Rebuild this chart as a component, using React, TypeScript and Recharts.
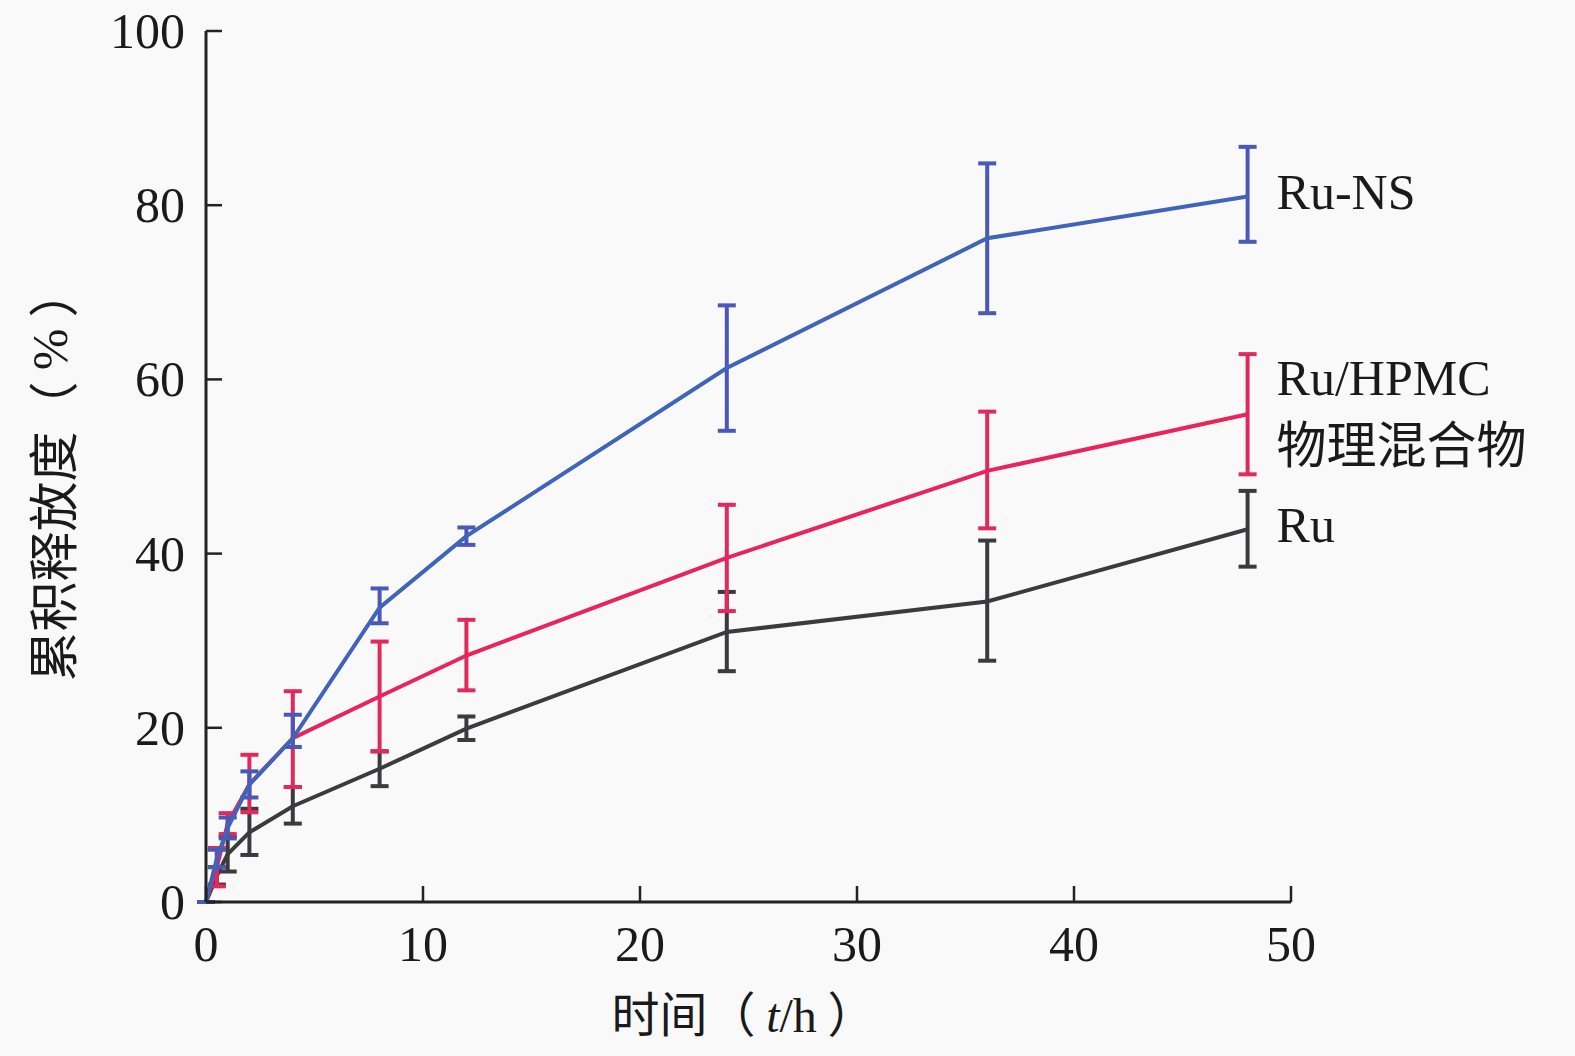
import React from "react";
import { LineChart, Line, XAxis, YAxis, ErrorBar } from "recharts";

const times = [0, 0.5, 1, 2, 4, 8, 12, 24, 36, 48];

const ruNS = [0, 5, 8.5, 13.5, 18.8, 33.8, 42, 61.3, 76.2, 81];
const ruNSErr = [[0, 0], [1, 1], [1.2, 1.2], [1.5, 1.5], [1, 2.7], [1.8, 2.2], [1, 1], [7.2, 7.2], [8.6, 8.6], [5.2, 5.7]];

const ruHPMC = [0, 4, 9, 13.5, 18.8, 23.6, 28.3, 39.5, 49.5, 56];
const ruHPMCErr = [[0, 0], [2.2, 2.2], [1.2, 1.2], [3.2, 3.4], [5.6, 5.4], [6.3, 6.3], [4, 4.1], [6.1, 6.1], [6.6, 6.8], [6.9, 6.9]];

const ru = [0, 3, 5.5, 8, 11, 15.3, 19.9, 31, 34.5, 42.8];
const ruErr = [[0, 0], [1, 1], [2, 2], [2.6, 2.7], [2, 2.2], [2, 2], [1.3, 1.4], [4.5, 4.6], [6.8, 7], [4.3, 4.4]];

const xTicks = [0, 10, 20, 30, 40, 50];
const yTicks = [0, 20, 40, 60, 80, 100];

const seriesLabels = {
  ns: ["Ru-NS"],
  hpmc: ["Ru/HPMC", "物理混合物"],
  ru: ["Ru"],
};

const data = times.map((t, i) => ({
  t,
  ns: ruNS[i],
  nsErr: ruNSErr[i],
  hpmc: ruHPMC[i],
  hpmcErr: ruHPMCErr[i],
  ru: ru[i],
  ruErr: ruErr[i],
}));

const serif = "'Liberation Serif', 'Times New Roman', 'Noto Sans CJK SC', serif";
const cjk = "'Noto Sans CJK SC', 'Liberation Serif', serif";
const last = times.length - 1;

function endLabel(lines: string[], offsets: number[]) {
  return (props: any) => {
    if (props.index !== last) return <g />;
    return (
      <g>
        {lines.map((s, k) => (
          <text key={k} x={props.x + 29} y={props.y + offsets[k]} fontSize={50} fill="#1a1a1a"
            fontFamily={/[\u4e00-\u9fff]/.test(s) ? cjk : serif} dominantBaseline="central">
            {s}
          </text>
        ))}
      </g>
    );
  };
}

const YTick = (props: any) => {
  const { x, y, payload } = props;
  return (
    <g>
      <line x1={x + 21} y1={y} x2={x + 37} y2={y} stroke="#222" strokeWidth={2.5} />
      <text x={x} y={y} textAnchor="end" dominantBaseline="central" fontSize={50} fontFamily={serif} fill="#1a1a1a">
        {payload.value}
      </text>
    </g>
  );
};

const XTick = (props: any) => {
  const { x, y, payload } = props;
  return (
    <g>
      <line x1={x} y1={y - 22} x2={x} y2={y - 38} stroke="#222" strokeWidth={2.5} />
      <text x={x} y={y + 20} textAnchor="middle" dominantBaseline="central" fontSize={50} fontFamily={serif} fill="#1a1a1a">
        {payload.value}
      </text>
    </g>
  );
};

const XTitle = (props: any) => {
  const vb = props.viewBox;
  return (
    <text x={vb.x + vb.width / 2 - 5} y={1032} textAnchor="middle" fontSize={48} fontFamily={cjk} fill="#1a1a1a">
      时间（ <tspan fontFamily={serif} fontStyle="italic">t</tspan>
      <tspan fontFamily={serif}>/h</tspan> ）
    </text>
  );
};

const YTitle = (props: any) => {
  const vb = props.viewBox;
  const cy = vb.y + vb.height / 2 + 8;
  return (
    <text x={50} y={cy} transform={`rotate(-90, 50, ${cy})`} textAnchor="middle" dominantBaseline="central"
      fontSize={50} fontFamily={cjk} fill="#1a1a1a">
      累积释放度（ <tspan fontFamily={serif}>%</tspan> ）
    </text>
  );
};

export default function App() {
  return (
    <div style={{ position: "absolute", left: 0, top: 0, width: 1575, height: 1056, background: "#f9f9f9" }}>
      <LineChart width={1575} height={1056} data={data} margin={{ top: 31, right: 284, bottom: 94, left: 86 }}>
        <XAxis dataKey="t" type="number" domain={[0, 50]} ticks={xTicks} height={60}
          axisLine={{ stroke: "#222", strokeWidth: 3 }} tickLine={false} tickSize={0} tickMargin={22}
          tick={<XTick />} label={<XTitle />} />
        <YAxis type="number" domain={[0, 100]} ticks={yTicks} width={120}
          axisLine={{ stroke: "#222", strokeWidth: 3 }} tickLine={false} tickSize={0} tickMargin={21}
          tick={<YTick />} label={<YTitle />} />
        <Line dataKey="ru" type="linear" stroke="#3b3b3d" strokeWidth={4} dot={false} isAnimationActive={false}
          label={endLabel(seriesLabels.ru, [-4])}>
          <ErrorBar dataKey="ruErr" width={9} stroke="#3b3b3d" strokeWidth={4} direction="y" />
        </Line>
        <Line dataKey="hpmc" type="linear" stroke="#e8245a" strokeWidth={4} dot={false} isAnimationActive={false}
          label={endLabel(seriesLabels.hpmc, [-36, 27])}>
          <ErrorBar dataKey="hpmcErr" width={9} stroke="#e02a5c" strokeWidth={4} direction="y" />
        </Line>
        <Line dataKey="ns" type="linear" stroke="#3f64b8" strokeWidth={4} dot={false} isAnimationActive={false}
          label={endLabel(seriesLabels.ns, [-4])}>
          <ErrorBar dataKey="nsErr" width={9} stroke="#4a58b8" strokeWidth={4} direction="y" />
        </Line>
      </LineChart>
    </div>
  );
}
